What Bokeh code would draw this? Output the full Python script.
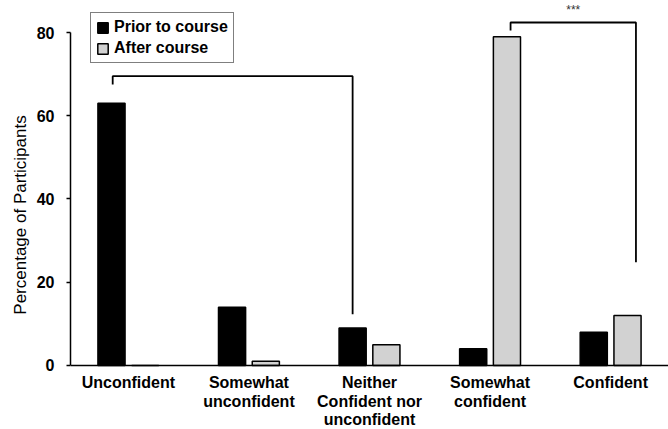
from bokeh.plotting import figure
from bokeh.models import Range1d, FixedTicker, Legend, LegendItem, Label, Span, ColumnDataSource
from bokeh.core.properties import value
from bokeh.embed import file_html
from bokeh.resources import INLINE

# ---- data ----
categories = ["Unconfident", "Somewhat\nunconfident", "Neither\nConfident nor\nunconfident",
              "Somewhat\nconfident", "Confident"]
prior = [63, 14, 9, 4, 8]
after = [0, 1, 5, 79, 12]
series_names = ["Prior to course", "After course"]
y_ticks = [0, 20, 40, 60, 80]
y_label = "Percentage of Participants"
# significance brackets (values on the y scale)
bracket_start_cat = [0, 3]
bracket_end_cat = [2, 4]
bracket_top = [69.5, 82.4]
bracket_left_end = [67.5, 80.5]
bracket_right_end = [12.3, 24.8]
bracket_text = ["", "***"]

FONT = "Liberation Sans"
idx = list(range(len(categories)))
off = 0.14
bw = 0.225

p = figure(width=668, height=429, output_backend="svg", toolbar_location=None,
           x_range=Range1d(-0.48, 4.48), y_range=Range1d(-15.38, 87.69),
           min_border_left=70, min_border_right=0, min_border_top=0, min_border_bottom=0)
p.outline_line_color = None
p.grid.grid_line_color = None
p.background_fill_color = "white"
p.border_fill_color = "white"

src = ColumnDataSource(dict(xp=[i - off for i in idx], xa=[i + off for i in idx], prior=prior, after=after))
r1 = p.vbar(x="xp", top="prior", width=bw, source=src, fill_color="black", line_color="black", line_width=1.5)
r2 = p.vbar(x="xa", top="after", width=bw, source=src, fill_color="#d2d2d2", line_color="black", line_width=1.5)

# x axis baseline and category labels (drawn at y = 0 through the data scales)
p.xaxis.visible = False
p.add_layout(Span(location=0, dimension="width", line_color="black", line_width=1.5))
lab_src = ColumnDataSource(dict(x=idx, y=[-2.1] * len(idx), text=categories))
p.text(x="x", y="y", text="text", source=lab_src, text_font=value(FONT), text_font_style="bold",
       text_font_size="16px", text_color="black", text_align="center", text_baseline="top",
       text_line_height=1.08)

# brackets
xs, ys = [], []
bx0 = [bracket_start_cat[0] - 0.13, bracket_start_cat[1] + 0.17]
bx1 = [bracket_end_cat[0] - 0.14, bracket_end_cat[1] + 0.21]
for k in range(len(bracket_top)):
    xs.append([bx0[k], bx0[k], bx1[k], bx1[k]])
    ys.append([bracket_left_end[k], bracket_top[k], bracket_top[k], bracket_right_end[k]])
p.multi_line(xs=xs, ys=ys, line_color="black", line_width=1.8)
for k in range(len(bracket_top)):
    if bracket_text[k]:
        p.add_layout(Label(x=(bx0[k] + bx1[k]) / 2, y=bracket_top[k] + 2.9, text=bracket_text[k],
                           text_font=FONT, text_font_size="12px", text_color="#333333",
                           text_align="center", text_baseline="middle"))

# y axis
ya = p.yaxis[0]
ya.ticker = FixedTicker(ticks=y_ticks)
ya.bounds = (0, 80)
ya.axis_line_width = 1.5
ya.axis_line_color = "black"
ya.major_tick_in = 0
ya.major_tick_out = 4
ya.major_tick_line_width = 1.5
ya.minor_tick_line_color = None
ya.major_label_text_font = FONT
ya.major_label_text_font_style = "bold"
ya.major_label_text_font_size = "16px"
ya.major_label_text_color = "black"
ya.major_label_standoff = 12
ya.axis_label = y_label
ya.axis_label_text_font = FONT
ya.axis_label_text_font_style = "normal"
ya.axis_label_text_font_size = "17px"
ya.axis_label_text_color = "black"
ya.axis_label_standoff = 4

legend = Legend(items=[LegendItem(label=series_names[0], renderers=[r1]),
                       LegendItem(label=series_names[1], renderers=[r2])],
                location=(20, 366))
legend.label_text_font = FONT
legend.label_text_font_style = "bold"
legend.label_text_font_size = "16px"
legend.label_text_color = "black"
legend.glyph_width = 13
legend.glyph_height = 13
legend.label_height = 14
legend.label_standoff = 5
legend.spacing = 3
legend.padding = 5
legend.margin = 0
legend.border_line_color = "black"
legend.border_line_width = 1.5
legend.background_fill_alpha = 1
p.add_layout(legend)

open("out.html", "w").write(file_html(p, INLINE))
